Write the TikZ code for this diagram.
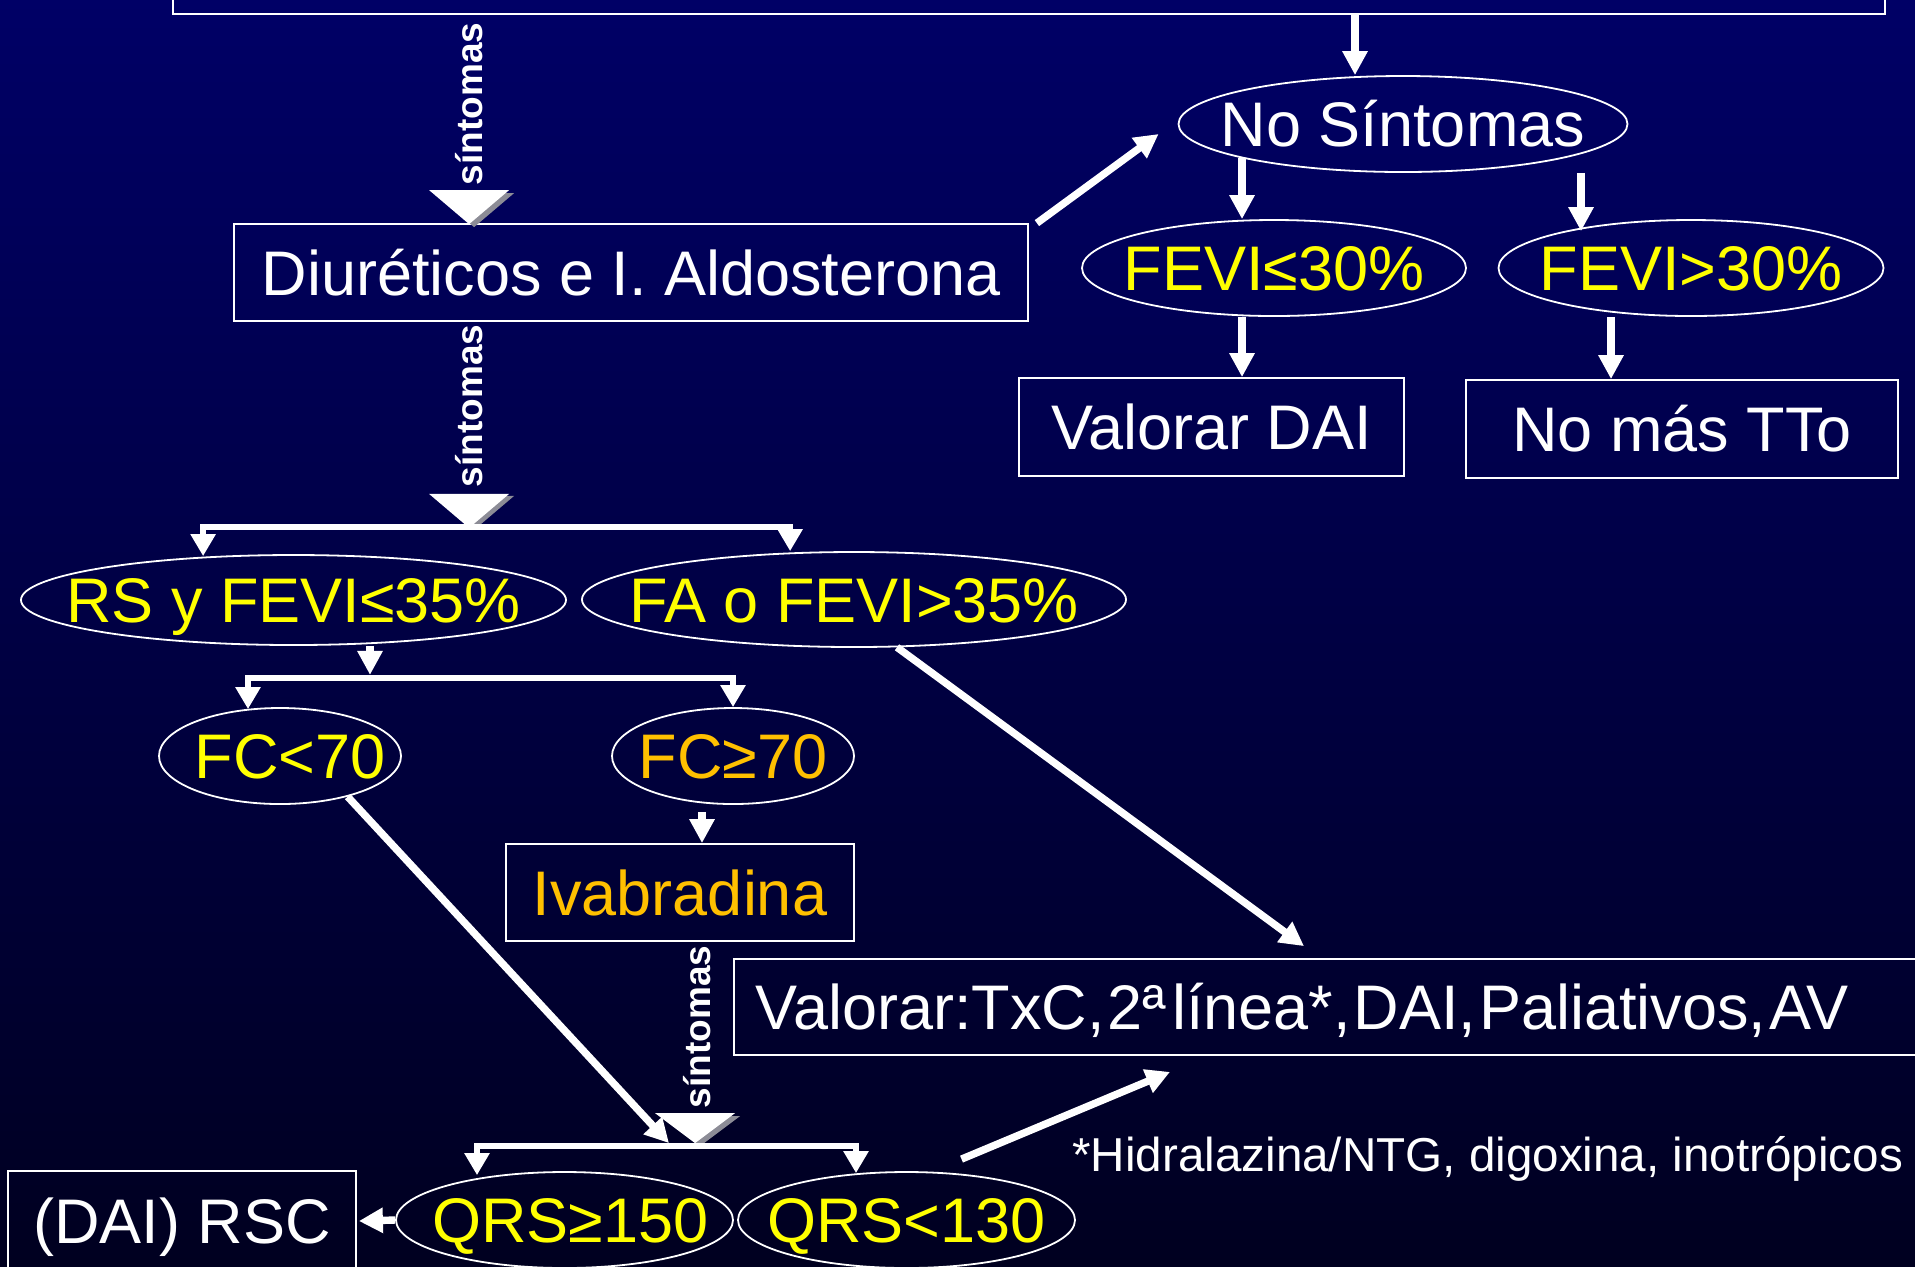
\documentclass[tikz,border=0pt]{standalone}
\usepackage{fontspec}
\setmainfont{Liberation Sans}
\usetikzlibrary{arrows.meta,calc,shapes.geometric}
\definecolor{yel}{RGB}{255,255,0}
\definecolor{org}{RGB}{255,192,0}
\definecolor{bgtop}{RGB}{0,0,102}
\definecolor{bgbot}{RGB}{0,0,32}
\definecolor{shadowgray}{RGB}{140,140,150}
\newcommand\zt[1]{\makebox[0pt]{#1}}
\newcommand\mainfs{\fontsize{31.5}{36}\selectfont}
\begin{document}
\begin{tikzpicture}[x=0.5pt,y=-0.5pt,
  box/.style={draw=white, line width=0.9pt, rectangle, inner sep=0pt, text=white,
    text height=22.5pt, text depth=0pt, font=\mainfs},
  ell/.style={draw=white, line width=0.9pt, ellipse, inner sep=0pt, text=yel,
    text height=22.5pt, text depth=0pt, font=\mainfs},
  arr/.style={draw=white, line width=3.7pt, -{Triangle[width=12pt,length=12pt]}},
  barr/.style={draw=white, line width=2.8pt, -{Triangle[width=12pt,length=11pt]}},
  sint/.style={text=white, rotate=90, inner sep=0pt, font=\fontsize{18.5}{20}\selectfont\bfseries},
  tri/.style={fill=white},
  trishadow/.style={fill=shadowgray}
]
\clip (0,0) rectangle (1915,1266);
\useasboundingbox (0,0) rectangle (1915,1266);
\shade[top color=bgtop, bottom color=bgbot] (0,0) rectangle (1915,1266);

% nodes
\node[box, minimum width=856pt, minimum height=50pt] (top) at (1029,-36) {};
\node[box, minimum width=397pt, minimum height=48.5pt] (diu) at (631,272.5) {Diuréticos e I. Aldosterona};
\node[ell, text=white, minimum width=224.5pt, minimum height=48pt] (nos) at (1403,124) {\zt{No Síntomas}};
\node[ell, minimum width=192pt, minimum height=48pt] (fe1) at (1274,268) {\zt{FEVI≤30\%}};
\node[ell, minimum width=192.5pt, minimum height=48pt] (fe2) at (1691,268) {\zt{FEVI>30\%}};
\node[box, minimum width=192.5pt, minimum height=49pt] (vdai) at (1211.5,427) {Valorar DAI};
\node[box, minimum width=216pt, minimum height=49pt] (nomas) at (1682,429) {No más TTo};
\node[ell, minimum width=272.5pt, minimum height=45pt] (rs) at (293.5,600) {\zt{RS y FEVI≤35\%}};
\node[ell, minimum width=272pt, minimum height=47.5pt] (fa) at (854,599.5) {\zt{FA o FEVI>35\%}};
\node[ell, minimum width=121pt, minimum height=48pt] (fc1) at (280,756) {\zt{\hspace{10pt}FC<70}};
\node[ell, text=org, minimum width=121pt, minimum height=48pt] (fc2) at (733,756) {\zt{FC≥70}};
\node[box, text=org, minimum width=174pt, minimum height=48.5pt] (iva) at (680,892.5) {Ivabradina};
\node[box, anchor=west, text width=579pt, align=left, inner xsep=11pt, minimum height=48pt] (val) at (733,1007)
  {Valorar:TxC,\kern1.5pt 2ª\kern3pt línea*,\kern1.5pt DAI,\kern1.5pt Paliativos,\kern1.5pt AV};
\node[ell, minimum width=168.5pt, minimum height=48pt] (qrs1) at (564.5,1220) {\zt{\hspace{6pt}QRS≥150}};
\node[ell, minimum width=168.5pt, minimum height=48pt] (qrs2) at (906.5,1220) {\zt{QRS<130}};
\node[box, minimum width=174pt, minimum height=50pt] (rsc) at (182,1221) {(DAI) RSC};
\node[anchor=base west, inner sep=0pt, text=white, font=\fontsize{23.8}{26}\selectfont] (fn) at (1072,1171)
  {*Hidralazina/NTG, digoxina, inotrópicos};

\node[sint] (s1) at (469,104) {síntomas};
\node[sint] (s2) at (469,406) {síntomas};
\node[sint] (s3) at (697,1027) {síntomas};

% coordinates
\coordinate (t1a) at ($(diu.north west)+(236,1)$);
\coordinate (b1m) at ($(diu.south west)+(236,205)$);
\coordinate (b1l) at ($(b1m)+(-266,0)$);
\coordinate (b1r) at ($(b1m)+(321,0)$);
\coordinate (b2m) at ($(rs.south)+(76.5,32)$);
\coordinate (b2l) at ($(b2m)+(-122,0)$);
\coordinate (b3m) at ($(qrs1.north)+(130.5,-25)$);
\coordinate (b3l) at ($(qrs1.north)+(-87.5,-25)$);
\coordinate (b3r) at ($(qrs2.north)+(-50.5,-25)$);
\coordinate (a0) at ($(nos.north)+(-48,0)$);
\coordinate (a1b) at (nos.192 |- fe1.south);
\coordinate (a2) at ($(nos.south)+(178,0)$);
\coordinate (a3) at ($(fe2.south)+(-80,0)$);
\coordinate (c1) at ($(fc2.south)+(-31,7)$);

% triangles (síntomas arrows)
\fill[trishadow] ($(t1a)+(5,3)$) -- ++(-40,-34) -- ++(80,0) -- cycle;
\fill[tri] (t1a) -- ++(-40,-34) -- ++(80,0) -- cycle;
\fill[trishadow] ($(b1m)+(5,3)$) -- ++(-40,-34) -- ++(80,0) -- cycle;
\fill[tri] ($(b1m)+(0,1)$) -- ++(-40,-34) -- ++(80,0) -- cycle;
\fill[trishadow] ($(b3m)+(5,0)$) -- ++(-40,-30) -- ++(80,0) -- cycle;
\fill[tri] ($(b3m)+(0,-3)$) -- ++(-40,-30) -- ++(80,0) -- cycle;

% connectors
\draw[arr] (a0 |- top.south) -- (a0);
\draw[arr] ($(diu.north east)+(8,0)$) -- ($(nos.west)+(-19,10)$);
\draw[arr] (nos.192) -- (nos.192 |- fe1.north);
\draw[arr] (a1b) -- (a1b |- vdai.north);
\draw[arr] (a2) -- ($(a2 |- fe2.north)+(0,12)$);
\draw[arr] (a3) -- (a3 |- nomas.north);

\draw[barr] (b1m) -| ($(b1l |- rs.north)+(0,2)$);
\draw[barr] (b1m) -| (b1r |- fa.north);

\draw[arr] (b2m |- rs.south) -- ($(b2m)+(0,-3)$);
\draw[barr] (b2m) -| ($(b2l |- fc1.north)+(0,2)$);
\draw[barr] (b2m) -| (fc2.north);

\draw[arr] (c1) -- (c1 |- iva.north);

\draw[barr] (b3m) -| ($(b3l |- qrs1.north)+(0,4)$);
\draw[barr] (b3m) -| ($(b3r |- qrs2.north)+(0,2)$);

\draw[arr] (fc1.-31) -- ($(b3m)+(-26,-3)$);
\draw[arr] (fa.-48) -- ($(val.north west)+(571,-12)$);
\draw[arr] ($(qrs2.north)+(55,-12)$) -- ($(val.south west)+(437,16)$);
\draw[arr] (qrs1.west) -- ($(rsc.east)+(2,0)$);
\end{tikzpicture}
\end{document}
